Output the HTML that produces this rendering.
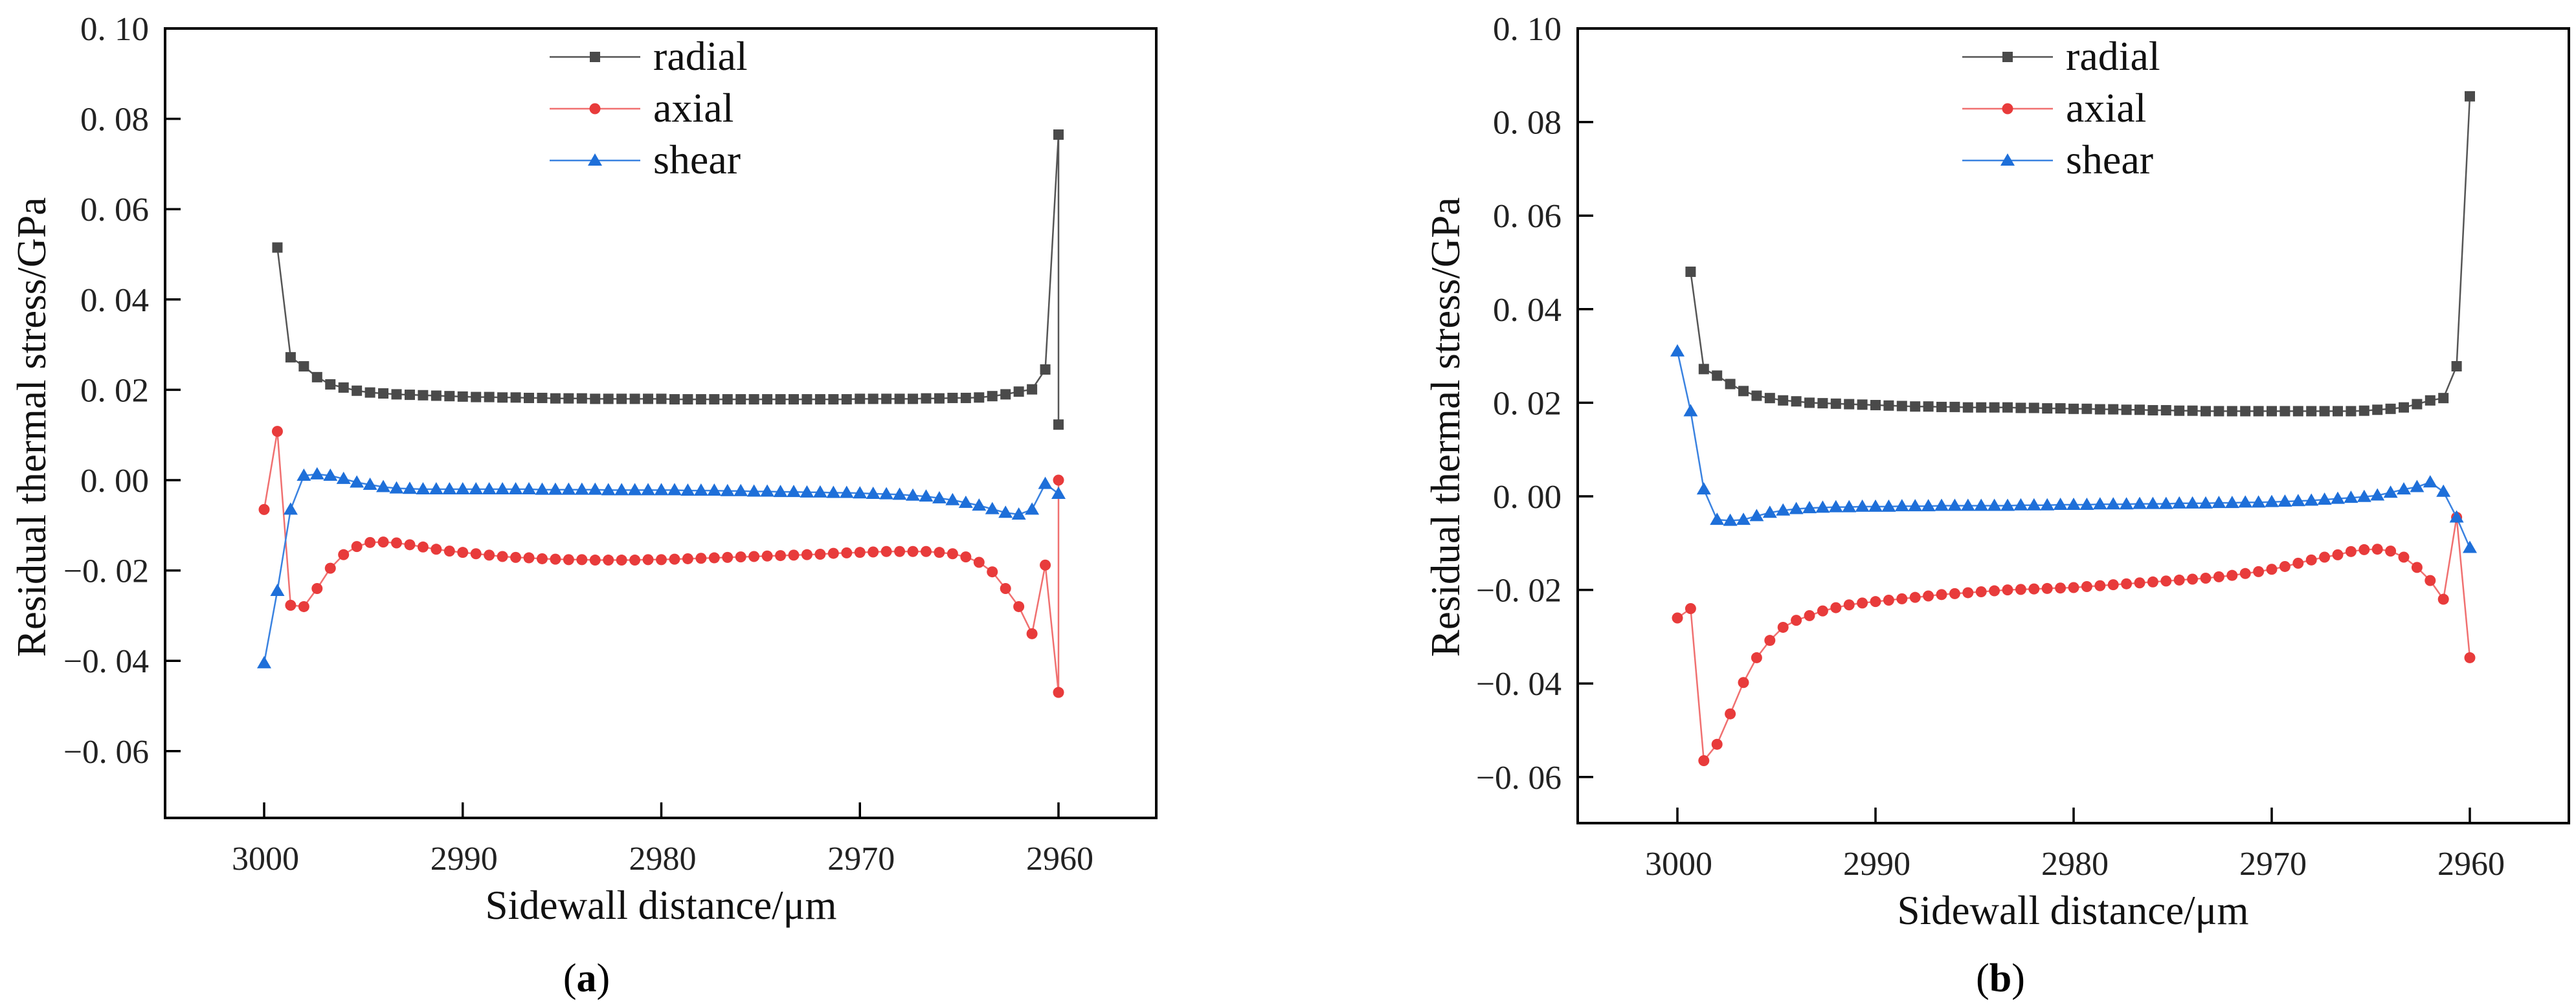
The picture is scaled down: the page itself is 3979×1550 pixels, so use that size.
<!DOCTYPE html>
<html><head><meta charset="utf-8"><style>
html,body{margin:0;padding:0;background:#fff;}
svg{display:block;font-family:"Liberation Serif","Noto Serif CJK SC",serif;}
</style></head><body>
<svg id="fig" width="3979" height="1550" viewBox="0 0 3979 1550" xmlns="http://www.w3.org/2000/svg"></svg>
<script>
const xTicks=[3000,2990,2980,2970,2960];
const yTickVals=[0.10,0.08,0.06,0.04,0.02,0.00,-0.02,-0.04,-0.06];
const yTickLabels=["0. 10","0. 08","0. 06","0. 04","0. 02","0. 00","\u22120. 02","\u22120. 04","\u22120. 06"];
const seriesNames=["radial","axial","shear"];
const xIndex=[];for(let i=0;i<=60;i++)xIndex.push(i);xIndex.push(60);
const radialA=[null,0.0515,0.0272,0.0252,0.0228,0.0212,0.0205,0.0198,0.0194,0.0192,0.0190,0.0189,0.0188,0.0187,0.0186,0.0185,0.0184,0.0184,0.0183,0.0183,0.0182,0.0182,0.0181,0.0181,0.0181,0.0180,0.0180,0.0180,0.0180,0.0180,0.0180,0.0179,0.0179,0.0179,0.0179,0.0179,0.0179,0.0179,0.0179,0.0179,0.0179,0.0179,0.0179,0.0179,0.0179,0.0180,0.0180,0.0180,0.0180,0.0180,0.0181,0.0181,0.0182,0.0182,0.0183,0.0186,0.0190,0.0196,0.0201,0.0245,0.0765,0.0123];
const axialA=[-0.0065,0.0108,-0.0277,-0.0280,-0.0240,-0.0195,-0.0165,-0.0147,-0.0138,-0.0137,-0.0139,-0.0143,-0.0148,-0.0153,-0.0157,-0.0160,-0.0163,-0.0166,-0.0169,-0.0171,-0.0172,-0.0174,-0.0175,-0.0176,-0.0176,-0.0177,-0.0177,-0.0177,-0.0177,-0.0176,-0.0176,-0.0175,-0.0174,-0.0173,-0.0172,-0.0171,-0.0170,-0.0169,-0.0168,-0.0167,-0.0166,-0.0165,-0.0164,-0.0162,-0.0161,-0.0160,-0.0159,-0.0158,-0.0158,-0.0158,-0.0158,-0.0160,-0.0163,-0.0170,-0.0182,-0.0203,-0.0240,-0.0280,-0.0340,-0.0188,-0.0470,0.0000];
const shearA=[-0.0405,-0.0245,-0.0065,0.0010,0.0013,0.0010,0.0003,-0.0005,-0.0010,-0.0015,-0.0018,-0.0019,-0.0020,-0.0020,-0.0020,-0.0020,-0.0020,-0.0020,-0.0020,-0.0020,-0.0020,-0.0021,-0.0021,-0.0021,-0.0021,-0.0021,-0.0022,-0.0022,-0.0022,-0.0022,-0.0022,-0.0022,-0.0023,-0.0023,-0.0023,-0.0024,-0.0024,-0.0025,-0.0025,-0.0026,-0.0026,-0.0027,-0.0027,-0.0028,-0.0028,-0.0029,-0.0030,-0.0031,-0.0032,-0.0034,-0.0036,-0.0040,-0.0044,-0.0050,-0.0056,-0.0064,-0.0072,-0.0076,-0.0065,-0.0008,-0.0030,null];
const radialB=[null,0.0480,0.0272,0.0258,0.0240,0.0225,0.0215,0.0210,0.0205,0.0203,0.0200,0.0199,0.0198,0.0197,0.0196,0.0195,0.0194,0.0193,0.0192,0.0192,0.0191,0.0191,0.0190,0.0190,0.0190,0.0190,0.0189,0.0189,0.0188,0.0188,0.0187,0.0187,0.0186,0.0186,0.0185,0.0185,0.0184,0.0184,0.0183,0.0183,0.0182,0.0182,0.0182,0.0182,0.0182,0.0182,0.0182,0.0182,0.0182,0.0182,0.0182,0.0182,0.0183,0.0185,0.0187,0.0190,0.0197,0.0205,0.0210,0.0278,0.0855,null];
const axialB=[-0.0260,-0.0240,-0.0565,-0.0530,-0.0465,-0.0398,-0.0345,-0.0308,-0.0280,-0.0265,-0.0255,-0.0245,-0.0238,-0.0232,-0.0228,-0.0225,-0.0222,-0.0219,-0.0216,-0.0213,-0.0210,-0.0208,-0.0206,-0.0204,-0.0202,-0.0200,-0.0199,-0.0198,-0.0197,-0.0196,-0.0195,-0.0193,-0.0191,-0.0189,-0.0187,-0.0185,-0.0183,-0.0181,-0.0179,-0.0177,-0.0175,-0.0172,-0.0169,-0.0165,-0.0161,-0.0156,-0.0150,-0.0143,-0.0136,-0.0130,-0.0125,-0.0118,-0.0114,-0.0113,-0.0117,-0.0130,-0.0152,-0.0180,-0.0220,-0.0045,-0.0345,null];
const shearB=[0.0310,0.0182,0.0015,-0.0050,-0.0052,-0.0050,-0.0042,-0.0035,-0.0030,-0.0027,-0.0025,-0.0024,-0.0023,-0.0023,-0.0022,-0.0022,-0.0022,-0.0021,-0.0021,-0.0021,-0.0020,-0.0020,-0.0020,-0.0020,-0.0020,-0.0020,-0.0019,-0.0019,-0.0019,-0.0018,-0.0018,-0.0018,-0.0017,-0.0017,-0.0017,-0.0016,-0.0016,-0.0016,-0.0015,-0.0015,-0.0015,-0.0014,-0.0014,-0.0013,-0.0013,-0.0012,-0.0011,-0.0010,-0.0009,-0.0007,-0.0005,-0.0003,-0.0001,0.0002,0.0008,0.0015,0.0020,0.0030,0.0010,-0.0045,-0.0110,null];

const NS="http://www.w3.org/2000/svg";
const svg=document.getElementById('fig');
function mk(tag,attrs,parent){const e=document.createElementNS(NS,tag);for(const k in attrs)e.setAttribute(k,attrs[k]);(parent||svg).appendChild(e);return e;}
const colors={radial:{line:"#555",mark:"#4a4a4a"},axial:{line:"#f07070",mark:"#e83b3b"},shear:{line:"#3a82e0",mark:"#1e6fd9"}};

function marker(g,type,cx,cy){
  let m;
  if(type==="radial") m=mk('rect',{x:cx-8,y:cy-8,width:16,height:16,fill:colors.radial.mark},g);
  else if(type==="axial") m=mk('circle',{cx:cx,cy:cy,r:8.5,fill:colors.axial.mark},g);
  else m=mk('polygon',{points:`${cx},${cy-11} ${cx-11},${cy+8} ${cx+11},${cy+8}`,fill:colors.shear.mark},g);
  return m;
}

function chart(cfg){
  const g=mk('g',{});
  
  
  const X=v=>cfg.x3000+(3000-v)*(cfg.x2960-cfg.x3000)/40;
  const Y=v=>cfg.y0-v*cfg.perUnit;
  const xOf=i=>3000-i*2/3;
  const data={radial:cfg.radial,axial:cfg.axial,shear:cfg.shear};
  seriesNames.forEach(n=>{
    const sg=mk('g',{},g);
    
    
    let d="";const arr=data[n];
    arr.forEach((v,k)=>{if(v===null)return;const px=X(xOf(xIndex[k])),py=Y(v);d+=(d?"L":"M")+px.toFixed(1)+","+py.toFixed(1);});
    const p=mk('path',{d:d,fill:"none",stroke:colors[n].line,"stroke-width":2.5},sg);
    
    
    arr.forEach((v,k)=>{if(v===null)return;const m=marker(sg,n,X(xOf(xIndex[k])),Y(v));
      
      });
  });
  const box=mk('rect',{x:cfg.L,y:cfg.T,width:cfg.R-cfg.L,height:cfg.B-cfg.T,fill:"none",stroke:"#000","stroke-width":4},g);
  
  
  yTickVals.forEach((v,k)=>{const y=Y(v);
    const t=mk('line',{x1:cfg.L,x2:cfg.L+24,y1:y,y2:y,stroke:"#000","stroke-width":3.5},g);
    
    
    const w=v<0?132:106;
    const tx=mk('text',{x:cfg.L-25-w,y:y+18,"font-size":52,fill:"#222",textLength:w,lengthAdjust:"spacingAndGlyphs"},g);
    tx.textContent=yTickLabels[k];
    
    
  });
  xTicks.forEach(v=>{const x=X(v);
    const t=mk('line',{x1:x,x2:x,y1:cfg.B,y2:cfg.B-24,stroke:"#000","stroke-width":3.5},g);
    
    
    const tx=mk('text',{x:x+2,y:cfg.B+80,"text-anchor":"middle","font-size":52,fill:"#222"},g);
    tx.textContent=String(v);
    
    
  });
  const xt=mk('text',{x:cfg.xTitleX,y:cfg.B+156,"text-anchor":"middle","font-size":63,fill:"#111"},g);
  xt.textContent="Sidewall distance/\u03bcm";
  
  
  const yt=mk('text',{x:0,y:0,"text-anchor":"middle","font-size":63,fill:"#111",transform:`translate(${cfg.yTitleX},660) rotate(-90)`},g);
  yt.textContent="Residual thermal stress/GPa";
  
  
  const lg=mk('g',{},g);
  
  
  seriesNames.forEach((n,k)=>{const y=88+k*80;
    const e=mk('g',{},lg);
    
    
    mk('line',{x1:cfg.legX,x2:cfg.legX+140,y1:y,y2:y,stroke:colors[n].line,"stroke-width":2.5},e);
    marker(e,n,cfg.legX+70,y);
    const t=mk('text',{x:cfg.legX+160,y:y+20,"font-size":64,fill:"#111"},e);
    t.textContent=n;
  });
  const cap=mk('text',{x:cfg.capX,y:1532,"text-anchor":"middle","font-size":62,fill:"#000"},g);
  cap.innerHTML='(<tspan font-weight="bold">'+cfg.tag+'</tspan>)';
  
  
}
chart({tag:"a",L:255,R:1786,T:44,B:1264,x3000:408,x2960:1635,y0:742,perUnit:6980,radial:radialA,axial:axialA,shear:shearA,xTitleX:1021,yTitleX:70,legX:849,capX:906});
chart({tag:"b",L:2437,R:3968,T:44,B:1272,x3000:2591,x2960:3815,y0:767,perUnit:7230,radial:radialB,axial:axialB,shear:shearB,xTitleX:3202,yTitleX:2254,legX:3031,capX:3090});
</script>
</body></html>
